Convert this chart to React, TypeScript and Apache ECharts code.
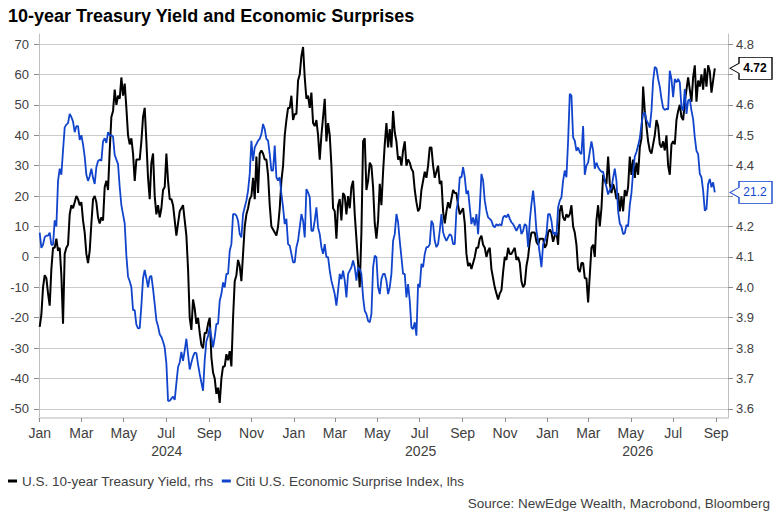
import React, { useEffect, useRef } from "react";
import * as echarts from "echarts";

// ---- data ----
const sampleStart = "2024-01-01";
const sampleStepDays = 2.4;
const axisStart = "2023-12-31";
const axisEnd = "2026-09-18";

const seriesNames = ["U.S. 10-year Treasury Yield, rhs", "Citi U.S. Economic Surprise Index, lhs"];
const titleText = "10-year Treasury Yield and Economic Surprises";
const sourceText = "Source: NewEdge Wealth, Macrobond, Bloomberg";

const monthTicks = [
  "2024-01-01", "2024-03-01", "2024-05-01", "2024-07-01", "2024-09-01", "2024-11-01",
  "2025-01-01", "2025-03-01", "2025-05-01", "2025-07-01", "2025-09-01", "2025-11-01",
  "2026-01-01", "2026-03-01", "2026-05-01", "2026-07-01", "2026-09-01",
];
const monthNames = ["Jan", "Feb", "Mar", "Apr", "May", "Jun", "Jul", "Aug", "Sep", "Oct", "Nov", "Dec"];
const yearLabels = [2024, 2025, 2026];
const leftTicks = [-50, -40, -30, -20, -10, 0, 10, 20, 30, 40, 50, 60, 70];
const rightTicks = [3.6, 3.7, 3.8, 3.9, 4.0, 4.1, 4.2, 4.3, 4.4, 4.5, 4.6, 4.7, 4.8];

// U.S. 10-year Treasury yield (%)
const yieldA = [
  3.87, 3.91, 4.0, 4.04, 4.03, 3.98, 3.94, 4.06, 4.13, 4.13,
  4.16, 4.12, 4.13, 4.04, 3.88, 4.11, 4.13, 4.14, 4.24, 4.27,
  4.26, 4.28, 4.3, 4.29, 4.27, 4.28, 4.22, 4.18, 4.11, 4.08,
  4.12, 4.21, 4.29, 4.3, 4.28, 4.23, 4.21, 4.23, 4.22, 4.33,
  4.35, 4.32, 4.45, 4.56, 4.58, 4.65, 4.6, 4.63, 4.62, 4.69,
  4.63, 4.67, 4.59, 4.5, 4.47, 4.49, 4.44, 4.35, 4.42, 4.42,
  4.42, 4.48, 4.56, 4.59, 4.48, 4.36, 4.29, 4.41, 4.44, 4.3,
  4.24, 4.27, 4.23, 4.26, 4.32, 4.33, 4.44, 4.35, 4.29, 4.29,
  4.27, 4.22, 4.17, 4.21, 4.25, 4.26, 4.27, 4.22, 4.17, 4.06,
  3.9, 3.86, 3.96, 3.93, 3.88, 3.9, 3.85, 3.81, 3.8, 3.85,
  3.85, 3.88,
];
const yieldB = [
  3.9, 3.77, 3.72, 3.7, 3.65, 3.67, 3.62, 3.7, 3.74, 3.74,
  3.78, 3.76, 3.79, 3.74, 3.9, 4.02, 4.04, 4.09, 4.07, 4.02,
  4.11, 4.2, 4.24, 4.26, 4.29, 4.3, 4.36, 4.29, 4.43, 4.31,
  4.44, 4.45, 4.44, 4.42, 4.42, 4.37, 4.27, 4.2, 4.19, 4.18,
  4.17, 4.2, 4.26, 4.35, 4.4, 4.5, 4.55, 4.59, 4.59, 4.63,
  4.55, 4.57, 4.57, 4.68, 4.7, 4.76, 4.79, 4.69, 4.62, 4.63,
  4.59, 4.64, 4.54, 4.53, 4.55, 4.5, 4.42, 4.5, 4.56, 4.62,
  4.48, 4.54, 4.5, 4.4, 4.26, 4.25, 4.16, 4.27, 4.29, 4.22,
  4.31, 4.3, 4.24, 4.3, 4.26, 4.33, 4.35, 4.24, 4.16, 4.08,
  4.0, 4.18, 4.48, 4.49, 4.32, 4.35, 4.41, 4.4, 4.33, 4.21,
  4.16, 4.22,
];
const yieldC = [
  4.34, 4.27, 4.38, 4.47, 4.54, 4.46, 4.52, 4.46, 4.58, 4.51,
  4.48, 4.42, 4.43, 4.4, 4.45, 4.48, 4.4, 4.42, 4.41, 4.39,
  4.38, 4.32, 4.28, 4.25, 4.26, 4.32, 4.35, 4.38, 4.36, 4.4,
  4.46, 4.46, 4.4, 4.36, 4.38, 4.4, 4.34, 4.35, 4.25, 4.21,
  4.25, 4.28, 4.26, 4.29, 4.32, 4.31, 4.31, 4.27, 4.24, 4.25,
  4.26, 4.21, 4.11, 4.07, 4.08, 4.06, 4.08, 4.1, 4.13, 4.13,
  4.16, 4.17, 4.14, 4.13, 4.1, 4.12, 4.13, 4.06, 4.03, 4.0,
  3.98, 3.96, 3.98, 3.99, 4.05, 4.1, 4.09, 4.13, 4.11, 4.11,
  4.12, 4.13, 4.09, 4.1, 4.08, 4.02, 4.0, 4.01, 4.07, 4.1,
  4.15, 4.18, 4.18, 4.18, 4.15, 4.14, 4.16, 4.16, 4.16, 4.13,
  4.14, 4.18,
];
const yieldD = [
  4.19, 4.18, 4.15, 4.17, 4.18, 4.14, 4.25, 4.27, 4.23, 4.22,
  4.24, 4.23, 4.24, 4.27, 4.2, 4.18, 4.14, 4.06, 4.05, 4.08,
  4.08, 4.03, 4.03, 3.95, 4.04, 4.13, 4.14, 4.1, 4.22, 4.27,
  4.2, 4.26, 4.37, 4.35, 4.34, 4.43, 4.34, 4.31, 4.34, 4.32,
  4.29, 4.31, 4.25, 4.3, 4.25, 4.32, 4.3, 4.33, 4.43, 4.37,
  4.42, 4.36, 4.41, 4.37, 4.46, 4.49, 4.66, 4.58, 4.53, 4.48,
  4.45, 4.44, 4.47, 4.5, 4.55, 4.53, 4.47, 4.46, 4.48, 4.45,
  4.5, 4.4, 4.37, 4.47, 4.48, 4.47, 4.55, 4.58, 4.6, 4.56,
  4.55, 4.61, 4.65, 4.69, 4.65, 4.61, 4.69, 4.73, 4.61, 4.68,
  4.66, 4.7, 4.65, 4.72, 4.66, 4.73, 4.71, 4.64, 4.68, 4.72,
];

// Citi U.S. Economic Surprise Index
const cesiA = [
  8, 3, 4, 6.5, 7, 7, 8, 4, 4, 12,
  10, 25, 29, 27, 35, 42.6, 43.5, 44, 47, 46,
  44.5, 41, 43, 43, 38.5, 40, 37, 33, 27, 25,
  26.5, 29, 26, 24, 29.5, 31.5, 32, 31.6, 38, 39,
  37.5, 41, 40, 40, 39.5, 33.5, 32, 30.5, 23, 17,
  14, 11, 0.5, -6.5, -8, -10, -17.5, -17.5, -22.3, -23.5,
  -23.4, -16, -7, -4.3, -7, -10, -6.6, -6.2, -10.5, -15.5,
  -20.8, -22.8, -25.4, -26.3, -27.8, -29.8, -35, -47.3, -47.3, -46.6,
  -45.9, -47, -41.5, -36.2, -34.7, -31.2, -34.2, -30.7, -26.9, -32,
  -37, -34.7, -32.7, -31.5, -31.6, -35.3, -38.5, -41.3, -44, -33.9,
  -27.7, -26,
];
const cesiB = [
  -23.2, -26.4, -29.7, -26.4, -22, -22, -14.4, -12.2, -8.4, -10,
  -5.6, -5.6, 2, 4.2, 14.1, 14.1, 13.6, 11.9, 7.5, 6.4,
  14.1, 16.3, 18.5, 21.8, 27.3, 38.2, 31.6, 36, 37.1, 38.2,
  38.8, 40.4, 43.7, 42, 38.8, 38.2, 33.8, 28.4, 28.4, 36.6,
  26.2, 25.1, 26.2, 20.7, 16.3, 10.8, 12.5, 4.2, 3.7, 1,
  -1.8, -1.8, 3.2, 5.4, 9.7, 14.1, 11.9, 6.4, 22.3, 21.2,
  19.6, 8.6, 8.6, 11.9, 16.3, 9.7, 7.5, 3.2, 1, 4.2,
  -0.1, -0.1, -4.5, -7.8, -10, -12.2, -16, -11.1, -5.6, -7.3,
  -4.5, -7.8, -13.3, -5.6, -4.5, -3.4, -1.2, -3.4, -7.8, -3.4,
  -4, -5.6, -13.3, -17.7, -18.8, -21, -21.5, -18.8, -3.4, 0.4,
  -0.1, -10,
];
const cesiC = [
  -12.2, -7.3, -5.6, -5.6, -7.8, -12.2, -10, -5.6, 5.3, 7.5,
  14.1, 11.4, 5.3, -0.1, -5.6, -5.6, -13.3, -8.9, -14.4, -23.2,
  -23.7, -21.5, -25.9, -8.9, -10, -2.3, -3.4, 1, 3.2, 3.2,
  4.2, 11.9, 10.8, 5.3, 3.2, 4.2, 8.6, 14.1, 8.1, 6.4,
  5.3, 6.4, 7.5, 7, 4.2, 4.2, 15.2, 18.5, 26.2, 26.2,
  29.5, 26.2, 20.7, 21.8, 16.3, 10.8, 13, 10.3, 14.1, 7.5,
  16.3, 27.3, 25.1, 18.5, 15.2, 13, 12.5, 11.9, 10.3, 9.7,
  10.8, 10.3, 10.8, 10.3, 13, 13.6, 13, 14.1, 12.5, 11.4,
  10.8, 9.7, 8.6, 9.7, 10.8, 7.5, 8.6, 10.8, 10.3, 3.2,
  11.9, 17.4, 21.8, 16.3, 8.6, 5.3, 1, -3.4, 4.2, 5.3,
  7.5, 14.1,
];
const cesiD = [
  14.1, 11.9, 7.5, 8.1, 7, 16.3, 18.5, 19.6, 25.1, 28.4,
  26.2, 38.2, 53.6, 53, 39.3, 38.2, 34.9, 36, 34.4, 33.8,
  43, 27, 30, 31, 34.5, 38, 35, 29, 31, 29.5,
  28.6, 28, 28, 25, 23, 20.5, 22, 22.5, 26, 29,
  25, 15, 11, 10, 7.5, 7.8, 10.5, 10, 17, 21,
  28, 33, 34.5, 36.6, 39, 43.5, 47, 47.5, 45, 43.9,
  42.5, 48, 58, 62.5, 62, 58.5, 56, 52, 49, 48.3,
  48.7, 48.5, 61.2, 58.5, 52.5, 58.5, 57.4, 58.5, 57.4, 49.2,
  48.1, 55.2, 47, 51.4, 51.9, 48.1, 45.3, 39.3, 34.9, 33.8,
  27.3, 26.2, 21.8, 15.2, 15.8, 24, 25.6, 22.9, 24.5, 21.2,
];

// ---- styling ----
const FONT = "'Liberation Sans', Arial, sans-serif";
const BLACK = "#000000";
const BLUE = "#1144cc";
const LABEL = "#404040";
const TAG = "path://M0,11 L9,6 L9,0 L42,0 L42,22 L9,22 L9,16 Z";

const DAY = 86400000;
const ts = (s: string) => Date.parse(s + "T00:00:00Z");

function buildOption() {
  const x0 = ts(sampleStart);
  const xMin = ts(axisStart);
  const xMax = ts(axisEnd);
  const leftMin = -52.96;
  const leftMax = 73.29;
  // right axis is aligned with the left one: right = 4.1 + left / 100
  const toRight = (l: number) => 4.1 + l / 100;
  const yieldVals = [...yieldA, ...yieldB, ...yieldC, ...yieldD];
  const cesiVals = [...cesiA, ...cesiB, ...cesiC, ...cesiD];
  const toPairs = (vals: number[]) => vals.map((v, i) => [x0 + i * sampleStepDays * DAY, v]);
  const monthTs = monthTicks.map(ts);
  const yearCenters = yearLabels.map((y) => {
    const a = Math.max(ts(`${y}-01-01`), xMin);
    const b = Math.min(ts(`${y + 1}-01-01`), xMax);
    return (a + b) / 2;
  });
  const lastYield = yieldVals[yieldVals.length - 1];
  const lastCesi = cesiVals[cesiVals.length - 1];
  // right-axis labels hidden behind the end-value tags (as in the reference)
  const tagLevels = [lastYield, toRight(lastCesi)];
  const rightLabelValues = rightTicks.filter((t) => tagLevels.every((l) => Math.abs(t - l) > 0.045));

  const tag = (value: number, text: string, color: string, bold: boolean) => ({
    silent: true,
    symbol: TAG,
    symbolSize: [42, 22],
    symbolOffset: [23, 0],
    itemStyle: { color: "#ffffff", borderColor: color, borderWidth: 1 },
    label: {
      show: true,
      position: "inside",
      offset: [4, 0],
      formatter: text,
      color,
      fontSize: 12,
      fontWeight: bold ? "bold" : "normal",
      fontFamily: FONT,
    },
    data: [{ coord: [xMax, value], value }],
  });

  return {
    animation: false,
    backgroundColor: "#ffffff",
    title: [
      {
        text: titleText,
        left: 8,
        top: 7,
        padding: 0,
        textStyle: { fontSize: 18, fontWeight: "bold", color: "#000000", fontFamily: FONT },
      },
      {
        text: sourceText,
        right: 10,
        top: 496,
        padding: 0,
        textStyle: { fontSize: 13.5, fontWeight: "normal", color: LABEL, fontFamily: FONT },
      },
    ],
    legend: {
      left: 8,
      top: 474,
      padding: 0,
      itemGap: 8,
      itemWidth: 9,
      itemHeight: 3,
      icon: "rect",
      selectedMode: false,
      data: seriesNames,
      textStyle: { fontSize: 13.5, color: LABEL, fontFamily: FONT },
    },
    grid: { left: 39, right: 52, top: 34, bottom: 104 },
    xAxis: [
      {
        type: "value",
        min: xMin,
        max: xMax,
        position: "bottom",
        axisLine: { show: true, onZero: false, lineStyle: { color: "#d9d9d9", width: 2 } },
        axisTick: { show: true, customValues: monthTs, length: 4, lineStyle: { color: "#8c8c8c" } },
        axisLabel: {
          customValues: monthTs,
          formatter: (v: number) => monthNames[new Date(v).getUTCMonth()],
          color: LABEL,
          fontSize: 14,
          margin: 8,
          fontFamily: FONT,
        },
        splitLine: { show: false },
      },
      {
        type: "value",
        min: xMin,
        max: xMax,
        position: "bottom",
        axisLine: { show: false, onZero: false },
        axisTick: { show: false },
        axisLabel: {
          customValues: yearCenters,
          formatter: (v: number) => String(new Date(v).getUTCFullYear()),
          color: LABEL,
          fontSize: 14,
          margin: 26,
          fontFamily: FONT,
        },
        splitLine: { show: false },
      },
    ],
    yAxis: [
      {
        type: "value",
        position: "left",
        min: leftMin,
        max: leftMax,
        axisLine: { show: true, lineStyle: { color: "#bfbfbf" } },
        axisTick: { show: true, customValues: leftTicks, length: 5, lineStyle: { color: "#8c8c8c" } },
        axisLabel: { customValues: leftTicks, color: LABEL, fontSize: 13, margin: 10, fontFamily: FONT },
        splitLine: { show: true, lineStyle: { color: "#cccccc", width: 1 } },
      },
      {
        type: "value",
        position: "right",
        min: toRight(leftMin),
        max: toRight(leftMax),
        axisLine: { show: true, lineStyle: { color: "#bfbfbf" } },
        axisTick: { show: true, customValues: rightTicks, length: 5, lineStyle: { color: "#8c8c8c" } },
        axisLabel: {
          customValues: rightLabelValues,
          formatter: (v: number) => v.toFixed(1),
          color: LABEL,
          fontSize: 13,
          margin: 8,
          fontFamily: FONT,
        },
        splitLine: { show: false },
      },
    ],
    series: [
      {
        name: seriesNames[0],
        type: "line",
        xAxisIndex: 0,
        yAxisIndex: 1,
        data: toPairs(yieldVals),
        symbol: "none",
        showSymbol: false,
        lineStyle: { color: BLACK, width: 2 },
        itemStyle: { color: BLACK },
        markPoint: tag(lastYield, lastYield.toFixed(2), BLACK, true),
      },
      {
        name: seriesNames[1],
        type: "line",
        xAxisIndex: 0,
        yAxisIndex: 0,
        data: toPairs(cesiVals),
        symbol: "none",
        showSymbol: false,
        lineStyle: { color: BLUE, width: 1.8 },
        itemStyle: { color: BLUE },
        markPoint: tag(lastCesi, lastCesi.toFixed(1), BLUE, false),
      },
    ],
  };
}

export default function App() {
  const ref = useRef<HTMLDivElement>(null);
  useEffect(() => {
    if (!ref.current) return;
    const chart = echarts.init(ref.current, undefined, { renderer: "svg" });
    chart.setOption(buildOption() as any);
    return () => chart.dispose();
  }, []);
  return (
    <div
      ref={ref}
      style={{ position: "fixed", left: 0, top: 0, width: 780, height: 522, background: "#ffffff" }}
    />
  );
}
